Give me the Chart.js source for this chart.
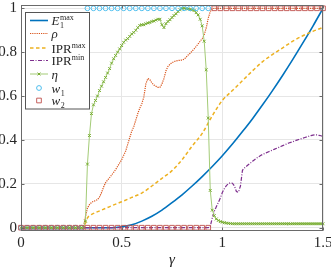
<!DOCTYPE html>
<html>
<head>
<meta charset="utf-8">
<title>gamma sweep</title>
<script src="https://cdn.jsdelivr.net/npm/chart.js"></script>
<style>
    html, body { margin: 0; padding: 0; background: #fff; }
    #wrap { width: 331px; height: 269px; }
</style>
</head>
<body>
<div id="wrap"><canvas id="c" width="331" height="269"></canvas></div>
<script>
// sampling grid of gamma, 0 .. 1.5 in steps of 0.01
var gamma = [];
for (var i = 0; i <= 150; i++) gamma.push(i / 100);

// marker grid for w1 / w2 (every 0.03)
var markGamma = [];
for (var j = 0; j <= 50; j++) markGamma.push(j * 3 / 100);

// coarse grid for the smooth E1max curve
var gammaCoarse = [0, 0.05, 0.1, 0.15, 0.2, 0.25, 0.3, 0.35, 0.4, 0.45,
    0.5, 0.55, 0.6, 0.65, 0.7, 0.75, 0.8, 0.85, 0.9, 0.95,
    1, 1.05, 1.1, 1.15, 1.2, 1.25, 1.3, 1.35, 1.4, 1.45, 1.5];

var E1max = [0, 0, 0, 0, 0, 0, 0, 0, 0, 0,
    0.004, 0.013, 0.03, 0.052, 0.08, 0.114, 0.15, 0.19, 0.233, 0.279,
    0.328, 0.381, 0.438, 0.497, 0.56, 0.626, 0.695, 0.767, 0.842, 0.919, 1.0];

var iprMaxGamma = [0, 0.31, 0.32, 0.33, 0.34, 0.36, 0.4, 0.45, 0.5, 0.55,
    0.6, 0.65, 0.7, 0.75, 0.8, 0.85, 0.9, 0.95, 1, 1.05,
    1.1, 1.15, 1.2, 1.25, 1.3, 1.35, 1.4, 1.45, 1.5];
var iprMax = [0, 0, 0.02, 0.045, 0.055, 0.065, 0.08, 0.1, 0.118, 0.138,
    0.158, 0.19, 0.225, 0.26, 0.31, 0.372, 0.43, 0.51, 0.58, 0.625,
    0.67, 0.715, 0.757, 0.79, 0.82, 0.85, 0.875, 0.895, 0.913];

// on the 0.01 grid
var rho = [0, 0, 0, 0, 0, 0, 0, 0, 0, 0,
    0, 0, 0, 0, 0, 0, 0, 0, 0, 0,
    0, 0, 0, 0, 0, 0, 0, 0, 0, 0,
    0, 0, 0.05, 0.09, 0.105, 0.115, 0.12, 0.123, 0.128, 0.14,
    0.16, 0.185, 0.205, 0.217, 0.228, 0.24, 0.252, 0.265, 0.28, 0.295,
    0.31, 0.33, 0.35, 0.38, 0.41, 0.44, 0.46, 0.49, 0.52, 0.545,
    0.565, 0.595, 0.655, 0.68, 0.675, 0.66, 0.65, 0.645, 0.64, 0.64,
    0.655, 0.68, 0.715, 0.735, 0.745, 0.752, 0.757, 0.76, 0.762, 0.763,
    0.764, 0.768, 0.777, 0.787, 0.795, 0.805, 0.815, 0.826, 0.838, 0.85,
    0.862, 0.88, 0.91, 0.955, 0.985, 0.998, 1, 1, 1, 1,
    1, 1, 1, 1, 1, 1, 1, 1, 1, 1,
    1, 1, 1, 1, 1, 1, 1, 1, 1, 1,
    1, 1, 1, 1, 1, 1, 1, 1, 1, 1,
    1, 1, 1, 1, 1, 1, 1, 1, 1, 1,
    1, 1, 1, 1, 1, 1, 1, 1, 1, 1,
    1];

var iprMin = [0, 0, 0, 0, 0, 0, 0, 0, 0, 0,
    0, 0, 0, 0, 0, 0, 0, 0, 0, 0,
    0, 0, 0, 0, 0, 0, 0, 0, 0, 0,
    0, 0, 0, 0, 0, 0, 0, 0, 0, 0,
    0, 0, 0, 0, 0, 0, 0, 0, 0, 0,
    0, 0, 0, 0, 0, 0, 0, 0, 0, 0,
    0, 0, 0, 0, 0, 0, 0, 0, 0, 0,
    0, 0, 0, 0, 0, 0, 0, 0, 0, 0,
    0, 0, 0, 0, 0, 0, 0, 0, 0, 0,
    0, 0, 0, 0, 0.005, 0.045, 0.075, 0.095, 0.115, 0.135,
    0.16, 0.178, 0.192, 0.2, 0.205, 0.203, 0.19, 0.165, 0.162, 0.19,
    0.262, 0.272, 0.28, 0.288, 0.295, 0.303, 0.31, 0.317, 0.323, 0.329,
    0.334, 0.338, 0.342, 0.346, 0.35, 0.354, 0.358, 0.362, 0.366, 0.37,
    0.374, 0.378, 0.382, 0.386, 0.389, 0.392, 0.396, 0.399, 0.402, 0.405,
    0.408, 0.411, 0.414, 0.417, 0.42, 0.422, 0.423, 0.423, 0.421, 0.419,
    0.416];

var eta = [0, 0, 0, 0, 0, 0, 0, 0, 0, 0,
    0, 0, 0, 0, 0, 0, 0, 0, 0, 0,
    0, 0, 0, 0, 0, 0, 0, 0, 0, 0,
    0, 0, 0.03, 0.29, 0.42, 0.52, 0.56, 0.58, 0.6, 0.625,
    0.645, 0.665, 0.685, 0.705, 0.725, 0.75, 0.77, 0.785, 0.8, 0.815,
    0.83, 0.845, 0.855, 0.862, 0.872, 0.883, 0.89, 0.9, 0.912, 0.922,
    0.925, 0.925, 0.93, 0.933, 0.935, 0.94, 0.942, 0.946, 0.95, 0.95,
    0.925, 0.912, 0.93, 0.94, 0.948, 0.958, 0.967, 0.975, 0.985, 0.993,
    1, 1, 0.998, 0.997, 0.995, 0.993, 0.99, 0.98, 0.97, 0.95,
    0.92, 0.85, 0.72, 0.5, 0.17, 0.08, 0.055, 0.04, 0.033, 0.028,
    0.025, 0.023, 0.021, 0.02, 0.019, 0.018, 0.018, 0.018, 0.018, 0.018,
    0.018, 0.018, 0.018, 0.018, 0.018, 0.018, 0.018, 0.018, 0.018, 0.018,
    0.018, 0.018, 0.018, 0.018, 0.018, 0.018, 0.018, 0.018, 0.018, 0.018,
    0.018, 0.018, 0.018, 0.018, 0.018, 0.018, 0.018, 0.018, 0.018, 0.018,
    0.018, 0.018, 0.018, 0.018, 0.018, 0.018, 0.018, 0.018, 0.018, 0.018,
    0.018];

// on the marker grid (null = not drawn)
var w1 = [0, 0, 0, 0, 0, 0, 0, 0, 0, 0, 0,
    1, 1, 1, 1, 1, 1, 1, 1, 1, 1, 1, 1, 1, 1, 1, 1, 1, 1, 1, 1, 1,
    null, null, null, null, null, null, null, null, null, null,
    null, null, null, null, null, null, null, null, null];
var w2 = [0, 0, 0, 0, 0, 0, 0, 0, 0, 0, 0,
    0, 0, 0, 0, 0, 0, 0, 0, 0, 0, 0, 0, 0, 0, 0, 0, 0, 0, 0, 0, 0,
    1, 1, 1, 1, 1, 1, 1, 1, 1, 1,
    1, 1, 1, 1, 1, 1, 1, 1, 1];

var xTicks = [0, 0.5, 1, 1.5];
var yTicks = [0, 0.2, 0.4, 0.6, 0.8, 1];

// legend labels: [text, style] pieces, style '' upright, 'i' italic, 'sub' / 'sup' scripts
var legendLabels = [
    [['E', 'i'], ['1', 'sub'], ['max', 'sup']],
    [['ρ', 'i']],
    [['IPR', ''], ['max', 'sup']],
    [['IPR', ''], ['min', 'sup']],
    [['η', 'i']],
    [['w', 'i'], ['1', 'sub']],
    [['w', 'i'], ['2', 'sub']]
];

function pts(xs, ys) {
    var out = [];
    for (var k = 0; k < xs.length; k++) {
        if (ys[k] !== null) out.push({ x: xs[k], y: ys[k] });
    }
    return out;
}

var SERIF = '"Liberation Serif", "DejaVu Serif", serif';

// box around the axes with inward tick marks
var axesBox = {
    id: 'axesBox',
    afterDatasetsDraw: function (chart) {
        var ctx = chart.ctx, a = chart.chartArea;
        var xs = chart.scales.x, ys = chart.scales.y;
        var L = Math.round(a.left) + 0.5, R = Math.round(a.right) - 0.5;
        var T = Math.round(a.top) + 0.5, B = Math.round(a.bottom) - 0.5;
        ctx.save();
        ctx.strokeStyle = '#6a6a6a';
        ctx.lineWidth = 1;
        ctx.strokeRect(L, T, R - L, B - T);
        ctx.beginPath();
        yTicks.forEach(function (v) {
            var y = Math.round(ys.getPixelForValue(v)) + 0.5;
            ctx.moveTo(L, y); ctx.lineTo(L + 3, y);
            ctx.moveTo(R, y); ctx.lineTo(R - 3, y);
        });
        xTicks.forEach(function (v) {
            var x = Math.round(xs.getPixelForValue(v)) + 0.5;
            ctx.moveTo(x, B); ctx.lineTo(x, B - 3);
            ctx.moveTo(x, T); ctx.lineTo(x, T + 3);
        });
        ctx.stroke();
        ctx.restore();
    }
};

// legend drawn inside the axes, top left
var boxLegend = {
    id: 'boxLegend',
    afterDraw: function (chart) {
        var ctx = chart.ctx;
        var x0 = 25.5, y0 = 12.5, w = 64, h = 96.5;
        var rows = [20.5, 33.5, 48, 60.5, 74, 88, 100.5];
        ctx.save();
        ctx.fillStyle = '#fff';
        ctx.fillRect(x0, y0, w, h);
        ctx.strokeStyle = '#555';
        ctx.lineWidth = 1;
        ctx.strokeRect(x0, y0, w, h);
        chart.data.datasets.forEach(function (ds, k) {
            var y = rows[k];
            if (ds.showLine) {
                ctx.save();
                ctx.strokeStyle = ds.borderColor;
                ctx.lineWidth = ds.borderWidth;
                ctx.setLineDash(ds.borderDash || []);
                ctx.beginPath();
                ctx.moveTo(30, y); ctx.lineTo(48, y);
                ctx.stroke();
                ctx.restore();
            }
            if (ds.pointRadius > 0) {
                ctx.save();
                ctx.strokeStyle = ds.pointBorderColor;
                ctx.fillStyle = 'rgba(0,0,0,0)';
                ctx.lineWidth = ds.pointBorderWidth;
                Chart.helpers.drawPoint(ctx, {
                    pointStyle: ds.pointStyle, radius: ds.pointRadius,
                    rotation: 0, borderWidth: ds.pointBorderWidth
                }, 39, y);
                ctx.restore();
            }
            // rich text
            var tx = 51.5, base = y + 4.5, subX = null;
            ctx.fillStyle = '#262626';
            ctx.textBaseline = 'alphabetic';
            legendLabels[k].forEach(function (p) {
                var txt = p[0], st = p[1];
                if (st === 'sub') {
                    ctx.font = '8px ' + SERIF;
                    subX = tx;
                    ctx.fillText(txt, tx, base + 3);
                    tx += ctx.measureText(txt).width;
                } else if (st === 'sup') {
                    ctx.font = '8px ' + SERIF;
                    var sx = subX !== null ? subX : tx;
                    ctx.fillText(txt, sx, base - 5);
                    tx = Math.max(tx, sx + ctx.measureText(txt).width);
                } else {
                    ctx.font = (st === 'i' ? 'italic ' : '') + '13px ' + SERIF;
                    ctx.fillText(txt, tx, base);
                    tx += ctx.measureText(txt).width + (st === 'i' ? 0.5 : 0);
                    subX = null;
                }
            });
        });
        ctx.restore();
    }
};

var ctx = document.getElementById('c').getContext('2d');
var chart = new Chart(ctx, {
    type: 'scatter',
    data: {
        datasets: [
            { label: 'E1max', data: pts(gammaCoarse, E1max), showLine: true,
              borderColor: '#0072BD', borderWidth: 1.6, pointRadius: 0,
              cubicInterpolationMode: 'monotone', order: 7 },
            { label: 'rho', data: pts(gamma, rho), showLine: true,
              borderColor: '#D95319', borderWidth: 1.2, borderDash: [1.2, 1],
              pointRadius: 0, order: 6 },
            { label: 'IPRmax', data: pts(iprMaxGamma, iprMax), showLine: true,
              borderColor: '#EDB120', borderWidth: 1.5, borderDash: [3.5, 2.5],
              pointRadius: 0, cubicInterpolationMode: 'monotone', order: 5 },
            { label: 'IPRmin', data: pts(gamma, iprMin), showLine: true,
              borderColor: '#7E2F8E', borderWidth: 1.2, borderDash: [4, 1.5, 1, 1.5],
              pointRadius: 0, order: 4 },
            { label: 'eta', data: pts(gamma, eta), showLine: true,
              borderColor: '#A3CB76', borderWidth: 1, pointStyle: 'crossRot',
              pointRadius: 2, pointBorderColor: '#77AC30', pointBorderWidth: 1,
              pointBackgroundColor: '#77AC30', order: 3, clip: false },
            { label: 'w1', data: pts(markGamma, w1), showLine: false,
              pointStyle: 'circle', pointRadius: 2.4, pointBorderColor: '#4DBEEE',
              pointBackgroundColor: 'rgba(0,0,0,0)', pointBorderWidth: 1, order: 2, clip: false },
            { label: 'w2', data: pts(markGamma, w2), showLine: false,
              pointStyle: 'rect', pointRadius: 3.3, pointBorderColor: '#C0504D',
              pointBackgroundColor: 'rgba(0,0,0,0)', pointBorderWidth: 0.9, order: 1, clip: false }
        ]
    },
    options: {
        responsive: false,
        animation: false,
        devicePixelRatio: 1,
        layout: { padding: { top: 1, right: 8, left: 0, bottom: 0 } },
        plugins: { legend: { display: false }, tooltip: { enabled: false } },
        elements: { line: { tension: 0 } },
        scales: {
            x: {
                type: 'linear', min: 0, max: 1.5,
                afterBuildTicks: function (s) { s.ticks = xTicks.map(function (v) { return { value: v }; }); },
                afterFit: function (s) { s.height = 38; s.paddingLeft = 0; s.paddingRight = 0; },
                grid: { color: '#e6e6e6', drawTicks: false, tickLength: 0 },
                border: { display: false },
                ticks: { padding: 3, color: '#262626', maxRotation: 0, autoSkip: false,
                         font: { family: SERIF, size: 15 },
                         callback: function (v) { return String(v); } },
                title: { display: true, text: 'γ', color: '#262626',
                         font: { family: SERIF, size: 15, style: 'italic' },
                         padding: { top: 0, bottom: 0 } }
            },
            y: {
                type: 'linear', min: -0.015, max: 1.015,
                afterBuildTicks: function (s) { s.ticks = yTicks.map(function (v) { return { value: v }; }); },
                afterFit: function (s) { s.width = 21; s.paddingTop = 0; s.paddingBottom = 0; },
                grid: { color: '#e6e6e6', drawTicks: false, tickLength: 0 },
                border: { display: false },
                ticks: { padding: 4, color: '#262626', autoSkip: false,
                         font: { family: SERIF, size: 15 },
                         callback: function (v) { return String(v); } }
            }
        }
    },
    plugins: [axesBox, boxLegend]
});
</script>
</body>
</html>
